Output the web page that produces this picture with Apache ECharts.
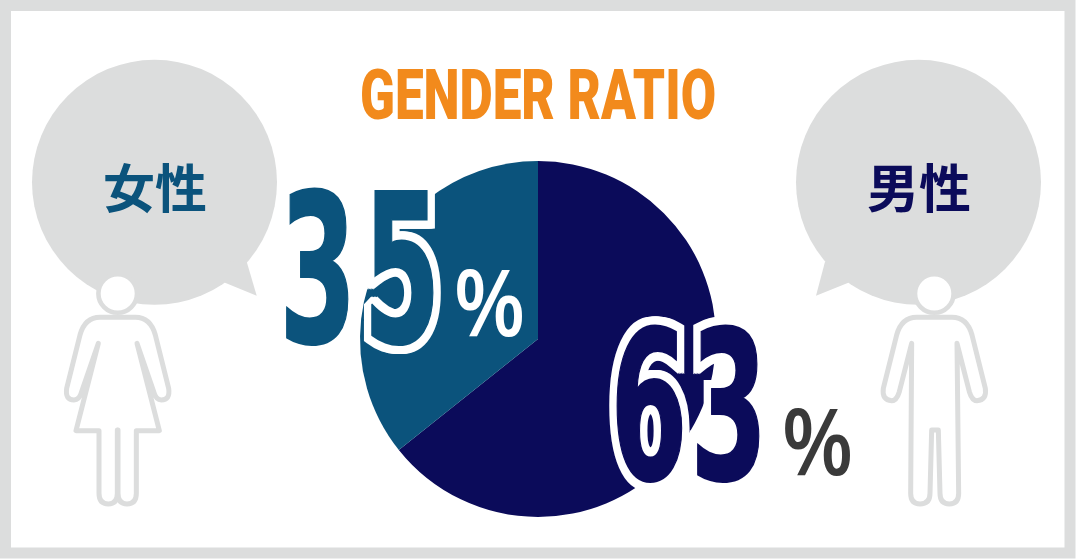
<!DOCTYPE html>
<html><head><meta charset="utf-8">
<style>html,body{margin:0;padding:0;background:#fff}#c{width:1076px;height:560px}</style>
<script src="https://cdn.jsdelivr.net/npm/echarts@6/dist/echarts.min.js"></script>
</head><body><div id="c"></div>
<script>
const titleText = 'GENDER RATIO';
const categories = ['男性', '女性'];
const values = [63, 35];
const percentSign = '%';
const colors = { male: '#0b0b5a', female: '#0b537c', grey: '#dcdddd', orange: '#f28a1c', dark: '#3a3a3a' };

const femalePath = 'M353 772L300 772Q255 772 240 825L200 985Q195 1020 222 1020Q238 1020 245 995L295 850L228 1112L297 1112L297 1300Q297 1332 325 1332Q352 1332 352 1300L352 1110M353 772L406 772Q451 772 466 825L506 985Q511 1020 484 1020Q468 1020 461 995L411 850L478 1112L409 1112L409 1300Q409 1332 381 1332Q354 1332 354 1300L354 1110';
const malePath = 'M463 772L410 772Q365 772 350 825L310 985Q305 1020 335 1022Q350 1022 358 995L395 850L392 1300Q392 1332 420 1332Q450 1332 450 1300L455 1110L475 1110L480 1300Q480 1332 508 1332Q536 1332 536 1300L531 850L568 995Q576 1022 591 1022Q621 1020 616 985L576 825Q561 772 516 772L463 772';

function personEl(pathData, ox) {
  return { type: 'group', x: ox, y: 60, scaleX: 1/3, scaleY: 1/3, children: [
    { type: 'path', shape: { pathData: pathData },
      style: { fill: 'none', stroke: colors.grey, lineWidth: 15, lineJoin: 'round', lineCap: 'round' } }
  ]};
}
function head(hx) {
  return { type: 'circle', shape: { cx: hx, cy: 293.5, r: 19.3 }, z: 6, style: { fill: '#fff', stroke: colors.grey, lineWidth: 4.6 } };
}
function bubble(cx, tail) {
  return [
    { type: 'circle', shape: { cx: cx, cy: 182.3, r: 122.5 }, z: 1, style: { fill: colors.grey } },
    { type: 'polygon', shape: { points: tail }, z: 1, style: { fill: colors.grey } }
  ];
}
function txt(text, x, y, font, fill, extra, sx) {
  return { type: 'text', x: x, y: y, scaleX: sx || 1, z: (extra && extra.z) || 10,
    style: Object.assign({ text: text, x: 0, y: 0, font: font, fill: fill, align: 'center', verticalAlign: 'middle', lineJoin: 'round' }, extra || {}) };
}
const bigFont = 'bold 206px "DejaVu Sans"';
const bigScale = 0.54;
function bigDigit(ch, x, y, col, outline) {
  const out = [];
  if (outline) [-3, -1.5, 0, 1.5, 3].forEach(dx => out.push(txt(ch, x + dx, y, bigFont, '#fff', { stroke: '#fff', lineWidth: 18, z: 10 }, bigScale)));
  out.push(txt(ch, x, y, bigFont, col, { stroke: col, lineWidth: 2, z: 11 }, bigScale));
  return out;
}
const femaleStr = String(values[1]), maleStr = String(values[0]);

const chart = echarts.init(document.getElementById('c'));
chart.setOption({
  animation: false,
  backgroundColor: '#fff',
  series: [{
    type: 'pie', center: [538, 339], radius: [0, 178], startAngle: 90, clockwise: true, z: 3,
    label: { show: false }, labelLine: { show: false }, silent: true,
    data: categories.map((c, i) => ({ name: c, value: values[i], itemStyle: { color: i === 0 ? colors.male : colors.female } }))
  }, {
    type: 'custom', coordinateSystem: 'none', z: 5, silent: true, data: [[0]],
    renderItem: () => ({ type: 'group', children: [personEl(femalePath, 0), personEl(malePath, 780)] })
  }],
  graphic: { elements: [
    { type: 'rect', shape: { x: 5.5, y: 5.5, width: 1064.5, height: 547.5 }, z: 0, style: { fill: 'none', stroke: colors.grey, lineWidth: 11 } },
    ...bubble(154.5, [[246.7, 261.7], [256.7, 295.7], [225, 282.7], [200, 260]]),
    ...bubble(918.5, [[825, 261.7], [816, 295.7], [848.3, 282.7], [870, 260]]),
    head(117.7), head(934.3),
    txt(titleText, 538, 101.5, '900 70px Roboto', colors.orange, {}, 0.732),
    txt(categories[1], 155, 188, 'bold 52px "Noto Sans CJK JP"', colors.female),
    txt(categories[0], 919, 188, 'bold 52px "Noto Sans CJK JP"', colors.male),
    ...bigDigit(femaleStr[0], 318, 288, colors.female, false),
    ...bigDigit(femaleStr[1], 402, 288, colors.female, true),
    ...bigDigit(maleStr[0], 649, 425, colors.male, true),
    ...bigDigit(maleStr[1], 729, 425, colors.male, true),
    txt(percentSign, 489.5, 310, '600 92px "Open Sans"', '#fff', {}, 0.9),
    txt(percentSign, 817.5, 449, '600 92px "Open Sans"', colors.dark, {}, 0.9)
  ]}
});
</script></body></html>
